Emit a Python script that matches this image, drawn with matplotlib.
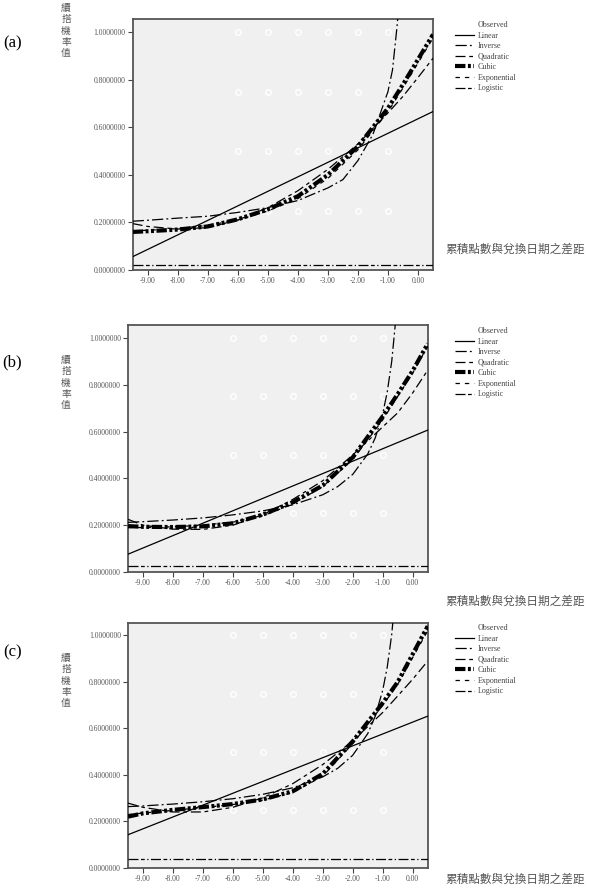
import matplotlib.pyplot as plt
import numpy as np
from matplotlib.lines import Line2D

plt.rcParams['font.family'] = ['Liberation Serif', 'Noto Sans CJK TC']

panel_tags = ['(a)', '(b)', '(c)']
model_names = ['Linear', 'Inverse', 'Quadratic', 'Cubic', 'Exponential', 'Logistic']
y_label = '續\n搭\n機\n率\n值'
x_label = '累積點數與兌換日期之差距'

# observed grid (white circles)
obs_x = [-6, -5, -4, -3, -2, -1]
obs_y = [0.25, 0.5, 0.75, 1.0]

# x positions where the fitted curves were read
x_ends = [-9.5, 0.5]
x_poly = [-9.5, -9, -8, -7, -6, -5, -4, -3, -2, -1, -0.5, 0, 0.5]
x_inv = [-9.5, -9, -8, -7, -6, -5, -4, -3, -2.5, -2, -1.5, -1.25, -1, -0.85, -0.7, -0.55]

# panel (a)
linear_a = [0.056, 0.666]
inverse_a = [0.205, 0.209, 0.218, 0.226, 0.242, 0.262, 0.292, 0.345, 0.38, 0.46,
             0.57, 0.66, 0.75, 0.84, 1.02, 1.25]
quad_a = [0.195, 0.183, 0.172, 0.178, 0.21, 0.262, 0.333, 0.423, 0.53, 0.66, 0.73, 0.809, 0.89]
cubic_a = [0.16, 0.163, 0.17, 0.183, 0.213, 0.255, 0.31, 0.40, 0.52, 0.68, 0.78, 0.885, 0.99]
exp_a = [0.165, 0.167, 0.174, 0.188, 0.21, 0.248, 0.30, 0.385, 0.505, 0.665, 0.765, 0.87, 0.975]
logistic_a = [0.021, 0.021]

# panel (b)
linear_b = [0.076, 0.606]
inverse_b = [0.212, 0.215, 0.222, 0.231, 0.244, 0.261, 0.287, 0.33, 0.365, 0.417,
             0.504, 0.573, 0.677, 0.769, 0.90, 1.10]
quad_b = [0.225, 0.20, 0.183, 0.182, 0.20, 0.245, 0.31, 0.39, 0.50, 0.62, 0.68, 0.765, 0.862]
cubic_b = [0.196, 0.193, 0.192, 0.195, 0.208, 0.245, 0.298, 0.37, 0.49, 0.665, 0.76, 0.86, 0.975]
exp_b = [0.19, 0.19, 0.193, 0.20, 0.213, 0.24, 0.29, 0.365, 0.48, 0.65, 0.75, 0.85, 0.965]
logistic_b = [0.024, 0.024]

# panel (c)
linear_c = [0.143, 0.653]
inverse_c = [0.264, 0.267, 0.275, 0.285, 0.298, 0.317, 0.345, 0.392, 0.429, 0.485,
             0.578, 0.653, 0.765, 0.864, 1.005, 1.22]
quad_c = [0.279, 0.261, 0.241, 0.241, 0.261, 0.302, 0.363, 0.445, 0.547, 0.669, 0.74, 0.812, 0.89]
cubic_c = [0.221, 0.235, 0.25, 0.262, 0.275, 0.295, 0.33, 0.405, 0.545, 0.71, 0.80, 0.92, 1.04]
exp_c = [0.23, 0.236, 0.248, 0.26, 0.273, 0.292, 0.325, 0.395, 0.535, 0.70, 0.79, 0.905, 1.02]
logistic_c = [0.038, 0.038]

panels = [
    (linear_a, inverse_a, quad_a, cubic_a, exp_a, logistic_a),
    (linear_b, inverse_b, quad_b, cubic_b, exp_b, logistic_b),
    (linear_c, inverse_c, quad_c, cubic_c, exp_c, logistic_c),
]

W, H = 590, 891
def fx(px): return px / W
def fy(py): return 1 - py / H

# axes boxes in pixels: left, top, right, bottom
ax_boxes = [(132.7, 19, 433, 270), (128, 325, 427.7, 572), (128, 622.7, 427.7, 868)]
tag_pos = [(13, 43), (12, 362), (13, 652)]
ylab_top = [4, 356, 654]
xlab_y = [250, 602, 880]
legend_top = [21, 327, 624]

styles = {
    'Linear': dict(ls='-', lw=0.9),
    'Inverse': dict(ls=(0, (9, 2.5, 1.5, 2.5)), lw=0.9),
    'Quadratic': dict(ls=(0, (8, 3, 3, 3)), lw=0.9),
    'Cubic': dict(ls=(0, (2.5, 0.6, 0.7, 0.6, 0.7, 0.6)), lw=3.0),
    'Exponential': dict(ls=(0, (3.5, 4)), lw=0.9),
    'Logistic': dict(ls=(0, (8, 2, 3, 2, 1, 2)), lw=0.9),
}

fig = plt.figure(figsize=(W / 100, H / 100), dpi=100)

for i, data in enumerate(panels):
    l, t, r, b = ax_boxes[i]
    ax = fig.add_axes([fx(l), fy(b), (r - l) / W, (b - t) / H])
    ax.set_facecolor('#f0f0f0')
    ox, oy = np.meshgrid(obs_x, obs_y)
    ax.plot(ox.ravel(), oy.ravel(), 'o', mfc='none', mec='white', ms=4, mew=1.0, zorder=1)
    linear, inverse, quad, cubic, expo, logistic = data
    xs = [x_ends, x_inv, x_poly, x_poly, x_poly, x_ends]
    ys = [linear, inverse, quad, cubic, expo, logistic]
    for name, xv, yv in zip(model_names, xs, ys):
        ax.plot(xv, yv, color='black', zorder=3, **styles[name])
    ax.set_xlim(-9.5, 0.5)
    ax.set_ylim(0, 1.055)
    ax.set_xticks(np.arange(-9, 1, 1))
    ax.set_xticklabels(['%.2f' % v for v in np.arange(-9, 1, 1)])
    ax.set_yticks([0, 0.2, 0.4, 0.6, 0.8, 1.0])
    ax.set_yticklabels(['%.7f' % v for v in [0, 0.2, 0.4, 0.6, 0.8, 1.0]])
    ax.tick_params(direction='out', length=3.5, width=0.8, color='#444',
                   labelsize=5.5, labelcolor='#555', pad=1.5)
    for sp in ax.spines.values():
        sp.set_color('#555')
        sp.set_linewidth(1.3)

    handles = [Line2D([], [], marker='o', ls='none', mfc='none', mec='white', ms=3.5)]
    for name in model_names:
        handles.append(Line2D([], [], color='black', **styles[name]))
    fig.legend(handles, ['Observed'] + model_names, loc='upper left',
               bbox_to_anchor=(fx(455), fy(legend_top[i])), frameon=False,
               fontsize=5.8, handlelength=2.4, handletextpad=0.4, labelspacing=0.32,
               borderaxespad=0, borderpad=0, labelcolor='#444')

    fig.text(fx(tag_pos[i][0]), fy(tag_pos[i][1]), panel_tags[i], fontsize=12,
             ha='center', va='center')
    fig.text(fx(66), fy(ylab_top[i]), y_label, fontsize=7, color='#555',
             ha='center', va='top', linespacing=1.3)
    fig.text(fx(445), fy(xlab_y[i]), x_label, fontsize=8.4, color='#555',
             ha='left', va='center')

fig.savefig('out.png', dpi=100)
